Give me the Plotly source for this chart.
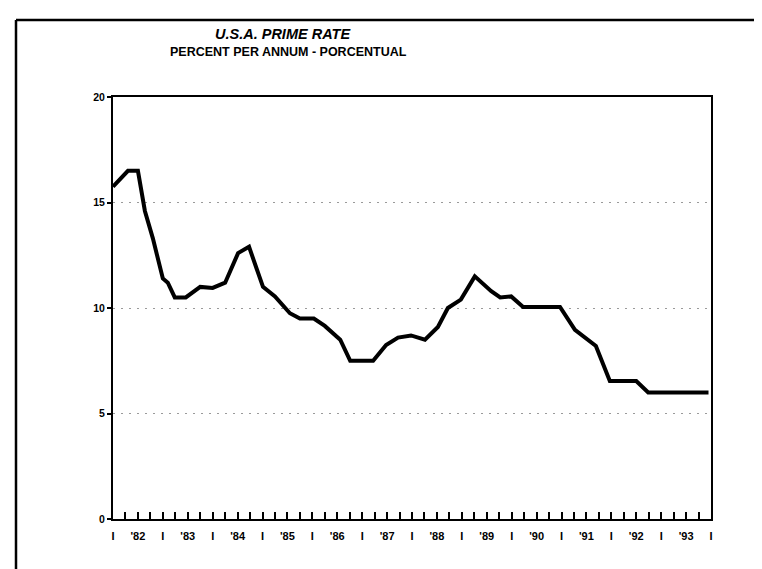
import plotly.graph_objects as go

# Traced values (decimal year, percent per annum)
years = [1982.00, 1982.30, 1982.50, 1982.64, 1982.80, 1983.00, 1983.10, 1983.24,
         1983.46, 1983.75, 1984.00, 1984.25, 1984.51, 1984.73, 1985.01, 1985.25,
         1985.55, 1985.75, 1986.03, 1986.25, 1986.56, 1986.76, 1987.22, 1987.48,
         1987.72, 1987.98, 1988.26, 1988.52, 1988.72, 1988.98, 1989.26, 1989.59,
         1989.77, 1989.99, 1990.23, 1990.97, 1991.27, 1991.69, 1991.97, 1992.50,
         1992.74, 1993.95]
rate = [15.75, 16.5, 16.5, 14.6, 13.3, 11.4, 11.2, 10.5,
        10.5, 11.0, 10.95, 11.2, 12.6, 12.9, 11.0, 10.55,
        9.75, 9.5, 9.5, 9.15, 8.5, 7.5, 7.5, 8.25,
        8.6, 8.7, 8.5, 9.1, 10.0, 10.4, 11.5, 10.8,
        10.5, 10.55, 10.05, 10.05, 8.96, 8.2, 6.54, 6.54,
        6.0, 6.0]

year_labels = ["'82", "'83", "'84", "'85", "'86", "'87", "'88", "'89", "'90", "'91", "'92", "'93"]
year_starts = list(range(1982, 1995))
quarters = [1982 + q / 4 for q in range(1, 48)]
y_ticks = [0, 5, 10, 15, 20]

tickvals, ticktext = [], []
for i, ys in enumerate(year_starts):
    tickvals.append(ys)
    ticktext.append("I")
    if i < len(year_labels):
        tickvals.append(ys + 0.5)
        ticktext.append(year_labels[i])

font_family = "Liberation Sans, Arial, sans-serif"

fig = go.Figure()
fig.add_trace(go.Scatter(x=years, y=rate, mode="lines",
                         line=dict(color="black", width=4), showlegend=False,
                         hoverinfo="skip"))
# invisible trace to anchor the label axis
fig.add_trace(go.Scatter(x=[1982, 1994], y=[0, 0], xaxis="x2", mode="lines",
                         line=dict(width=0), opacity=0, showlegend=False,
                         hoverinfo="skip"))

fig.update_layout(
    width=762, height=569,
    margin=dict(l=105, r=59, t=89, b=58),
    paper_bgcolor="white", plot_bgcolor="white",
    font=dict(family=font_family, color="black"),
    xaxis=dict(range=[1982, 1994], tickmode="array", tickvals=quarters,
               showticklabels=False, ticks="inside", ticklen=7, tickwidth=2,
               tickcolor="black", showgrid=False, zeroline=False,
               showline=True, linecolor="black", linewidth=2, mirror=True),
    xaxis2=dict(range=[1982, 1994], overlaying="x", side="bottom", anchor="y",
                tickmode="array", tickvals=tickvals, ticktext=ticktext, ticks="",
                showgrid=False, zeroline=False, showline=False,
                ticklabelstandoff=9,
                tickfont=dict(size=11, family=font_family, weight="bold")),
    yaxis=dict(range=[0, 20], tickmode="array", tickvals=y_ticks,
               ticktext=[str(v) for v in y_ticks], ticks="outside", ticklen=4,
               tickwidth=1.5, tickcolor="black", showgrid=True,
               gridcolor="#9a9a9a", gridwidth=1, griddash="2px,6px",
               zeroline=False, showline=True, linecolor="black", linewidth=2,
               mirror=True, tickfont=dict(size=10.5, family=font_family, weight="bold")),
    annotations=[
        dict(text="<b><i>U.S.A. PRIME RATE</i></b>", xref="paper", yref="paper",
             x=(275 - 105) / 598, y=1 + (89 - 26) / 422, xanchor="center",
             yanchor="middle", showarrow=False, font=dict(size=14.5, family=font_family)),
        dict(text="<b>PERCENT PER ANNUM - PORCENTUAL</b>", xref="paper", yref="paper",
             x=(280 - 105) / 598, y=1 + (89 - 44) / 422, xanchor="center",
             yanchor="middle", showarrow=False, font=dict(size=12.5, family=font_family)),
    ],
    shapes=[
        dict(type="line", xref="paper", yref="paper",
             x0=(8 - 105) / 598, x1=(762 - 105) / 598,
             y0=1 + (89 - 12) / 422, y1=1 + (89 - 12) / 422,
             line=dict(color="black", width=2.5)),
        dict(type="line", xref="paper", yref="paper",
             x0=(8 - 105) / 598, x1=(8 - 105) / 598,
             y0=1 + (89 - 12) / 422, y1=(511 - 569) / 422,
             line=dict(color="black", width=2.5)),
    ],
)

fig.write_html("out.html")
